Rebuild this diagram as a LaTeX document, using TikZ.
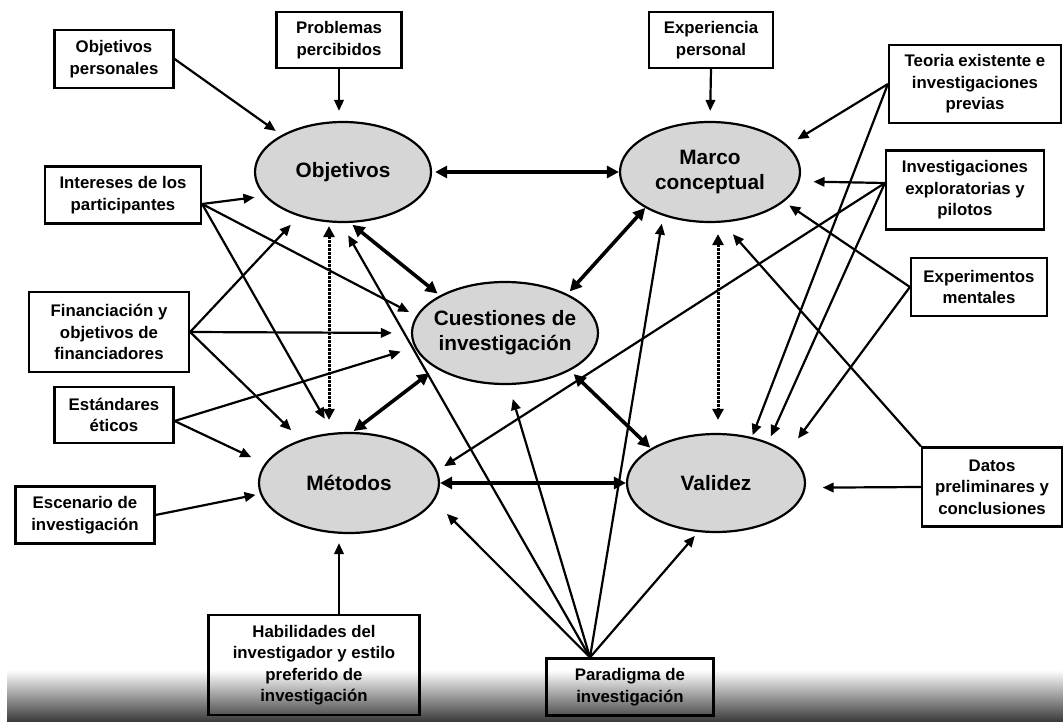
\documentclass[tikz,border=0pt]{standalone}
\usepackage{fontspec}
\setmainfont{Liberation Sans}
\usetikzlibrary{shapes.geometric,arrows.meta}

\begin{document}
\begin{tikzpicture}[x=1pt,y=-1pt,
    caja/.style 2 args={draw,line width=2.2pt,align=center,inner sep=0pt,
      minimum width=#1,minimum height=#2,font=\fontsize{16.8}{21.5}\selectfont\bfseries},
    elipse/.style 2 args={ellipse,draw,line width=2.2pt,fill=black!16,align=center,inner sep=0pt,
      minimum width=#1,minimum height=#2,font=\fontsize{20.8}{25}\selectfont\bfseries},
    flecha/.style={line width=2.2pt,-{Triangle[length=11pt,width=9.5pt]},shorten >=#1},
    flecha/.default=9pt,
    doble/.style={line width=3.6pt,{Triangle[length=12pt,width=12pt]}-{Triangle[length=12pt,width=12pt]}},
    punteado/.style={line width=3pt,dash pattern=on 2.5pt off 1.5pt,
      {Triangle[length=11pt,width=11pt]}-{Triangle[length=11pt,width=11pt]}}]

		\useasboundingbox (0,0) rectangle (1063,722);

		% dark band at the bottom
		\shade[top color=white,middle color=black!25,bottom color=black!78] (7,670) rectangle (1063,722);

		% the five ovals
		\node[elipse={176pt}{100pt}] (obj) at (343,172) {Objetivos};
		\node[elipse={180pt}{100pt}] (marco) at (710,172) {Marco\\conceptual};
		\node[elipse={186pt}{102pt},inner xsep=-6pt] (cuest) at (505,333) {Cuestiones de\\investigación};
		\node[elipse={180pt}{100pt}] (met) at (349,483) {Métodos};
		\node[elipse={178pt}{98pt}] (val) at (716,483) {Validez};

		% boxes on the left and below
		\node[caja={119pt}{58pt}] (objPers) at (114,59) {Objetivos\\personales};
		\node[caja={125pt}{56pt}] (problemas) at (339,40) {Problemas\\percibidos};
		\node[caja={156pt}{57pt}] (intereses) at (123,195) {Intereses de los\\participantes};
		\node[caja={160pt}{80pt}] (financ) at (109,332) {Financiación y\\objetivos de\\financiadores};
		\node[caja={119pt}{56pt}] (estandares) at (114,415) {Estándares\\éticos};
		\node[caja={139pt}{57pt}] (escenario) at (85,515) {Escenario de\\investigación};
		\node[caja={211pt}{100pt}] (habil) at (314,665) {Habilidades del\\investigador y estilo\\preferido de\\investigación};
		\node[caja={167pt}{57pt}] (paradigma) at (630,687) {Paradigma de\\investigación};

		% boxes on the right
		\node[caja={124pt}{56pt}] (exper) at (711,40) {Experiencia\\personal};
		\node[caja={172pt}{78pt}] (teoria) at (975,84) {Teoria existente e\\investigaciones\\previas};
		\node[caja={158pt}{79pt}] (expl) at (965,190) {Investigaciones\\exploratorias y\\pilotos};
		\node[caja={136pt}{58pt}] (mentales) at (979,287) {Experimentos\\mentales};
		\node[caja={140pt}{79pt}] (datos) at (992,487) {Datos\\preliminares y\\conclusiones};

		% arrows from the left
		\draw[flecha=7pt] (objPers.east) -- (obj.149);
		\draw[flecha=10pt] (problemas.south) -- ([xshift=-4pt]obj.north);
		\draw[flecha=10pt] ([yshift=-9pt]intereses.east) -- (obj.197);
		\draw[flecha=8pt] ([yshift=-9pt]intereses.east) -- (cuest.169);
		\draw[flecha=16pt] ([yshift=-9pt]intereses.east) -- (met.108);
		\draw[flecha=11.5pt] (financ.east) -- (obj.225);
		\draw[flecha=19pt] (financ.east) -- (cuest.west);
		\draw[flecha=13.5pt] (financ.east) -- (met.138);
		\draw[flecha=14.5pt] ([yshift=-6pt]estandares.east) -- (cuest.189);
		\draw[flecha=15pt] ([yshift=-6pt]estandares.east) -- (met.167);
		\draw[flecha=4.5pt] (escenario.east) -- (met.187);
		\draw[flecha=9pt] ([xshift=25pt]habil.north) -- ([xshift=-10pt]met.south);

		% arrows from the paradigm
		\draw[flecha=18pt] ([xshift=-40pt]paradigma.north) -- (met.348);
		\draw[flecha=14pt] ([xshift=-40pt]paradigma.north) -- (obj.268);
		\draw[flecha=14.5pt] ([xshift=-40pt]paradigma.north) -- (cuest.274);
		\draw[flecha=8pt] ([xshift=-40pt]paradigma.north) -- (marco.223);
		\draw[flecha=5pt] ([xshift=-40pt]paradigma.north) -- (val.250);

		% arrows from the right
		\draw[flecha=10pt] (exper.south) -- (marco.north);
		\draw[flecha=11.5pt] (teoria.west) -- (marco.19);
		\draw[flecha=2pt] (teoria.west) -- (val.52);
		\draw[flecha=14pt] ([yshift=7pt]expl.west) -- (marco.354);
		\draw[flecha=8pt] ([yshift=7pt]expl.west) -- (met.8);
		\draw[flecha=6.5pt] ([yshift=7pt]expl.west) -- (val.38);
		\draw[flecha=6.5pt] (mentales.west) -- (marco.338);
		\draw[flecha=17.5pt] (mentales.west) -- (val.23);
		\draw[flecha=15.5pt] (datos.north west) -- (marco.284);
		\draw[flecha=17pt] (datos.west) -- (val.357);

		% links between the ovals
		\draw[doble,shorten <=3pt] (obj) -- (marco);
		\draw[doble,shorten <=3pt,shorten >=3pt] (obj.278) -- (cuest.150);
		\draw[doble,shorten >=3.5pt] (marco.209) -- (cuest.32);
		\draw[doble,shorten <=8pt,shorten >=1.5pt] (cuest.207) -- (met.86);
		\draw[doble,shorten <=5pt,shorten >=1pt] (cuest.330) -- (val.152);
		\draw[doble] (met) -- (val);
		\draw[punteado,shorten <=3pt,shorten >=12pt] ([xshift=-14pt]obj.south) -- ([xshift=-20pt]met.north);
		\draw[punteado,shorten <=11pt,shorten >=13pt] ([xshift=8pt]marco.south) -- ([xshift=2pt]val.north);
	\end{tikzpicture}
\end{document}
